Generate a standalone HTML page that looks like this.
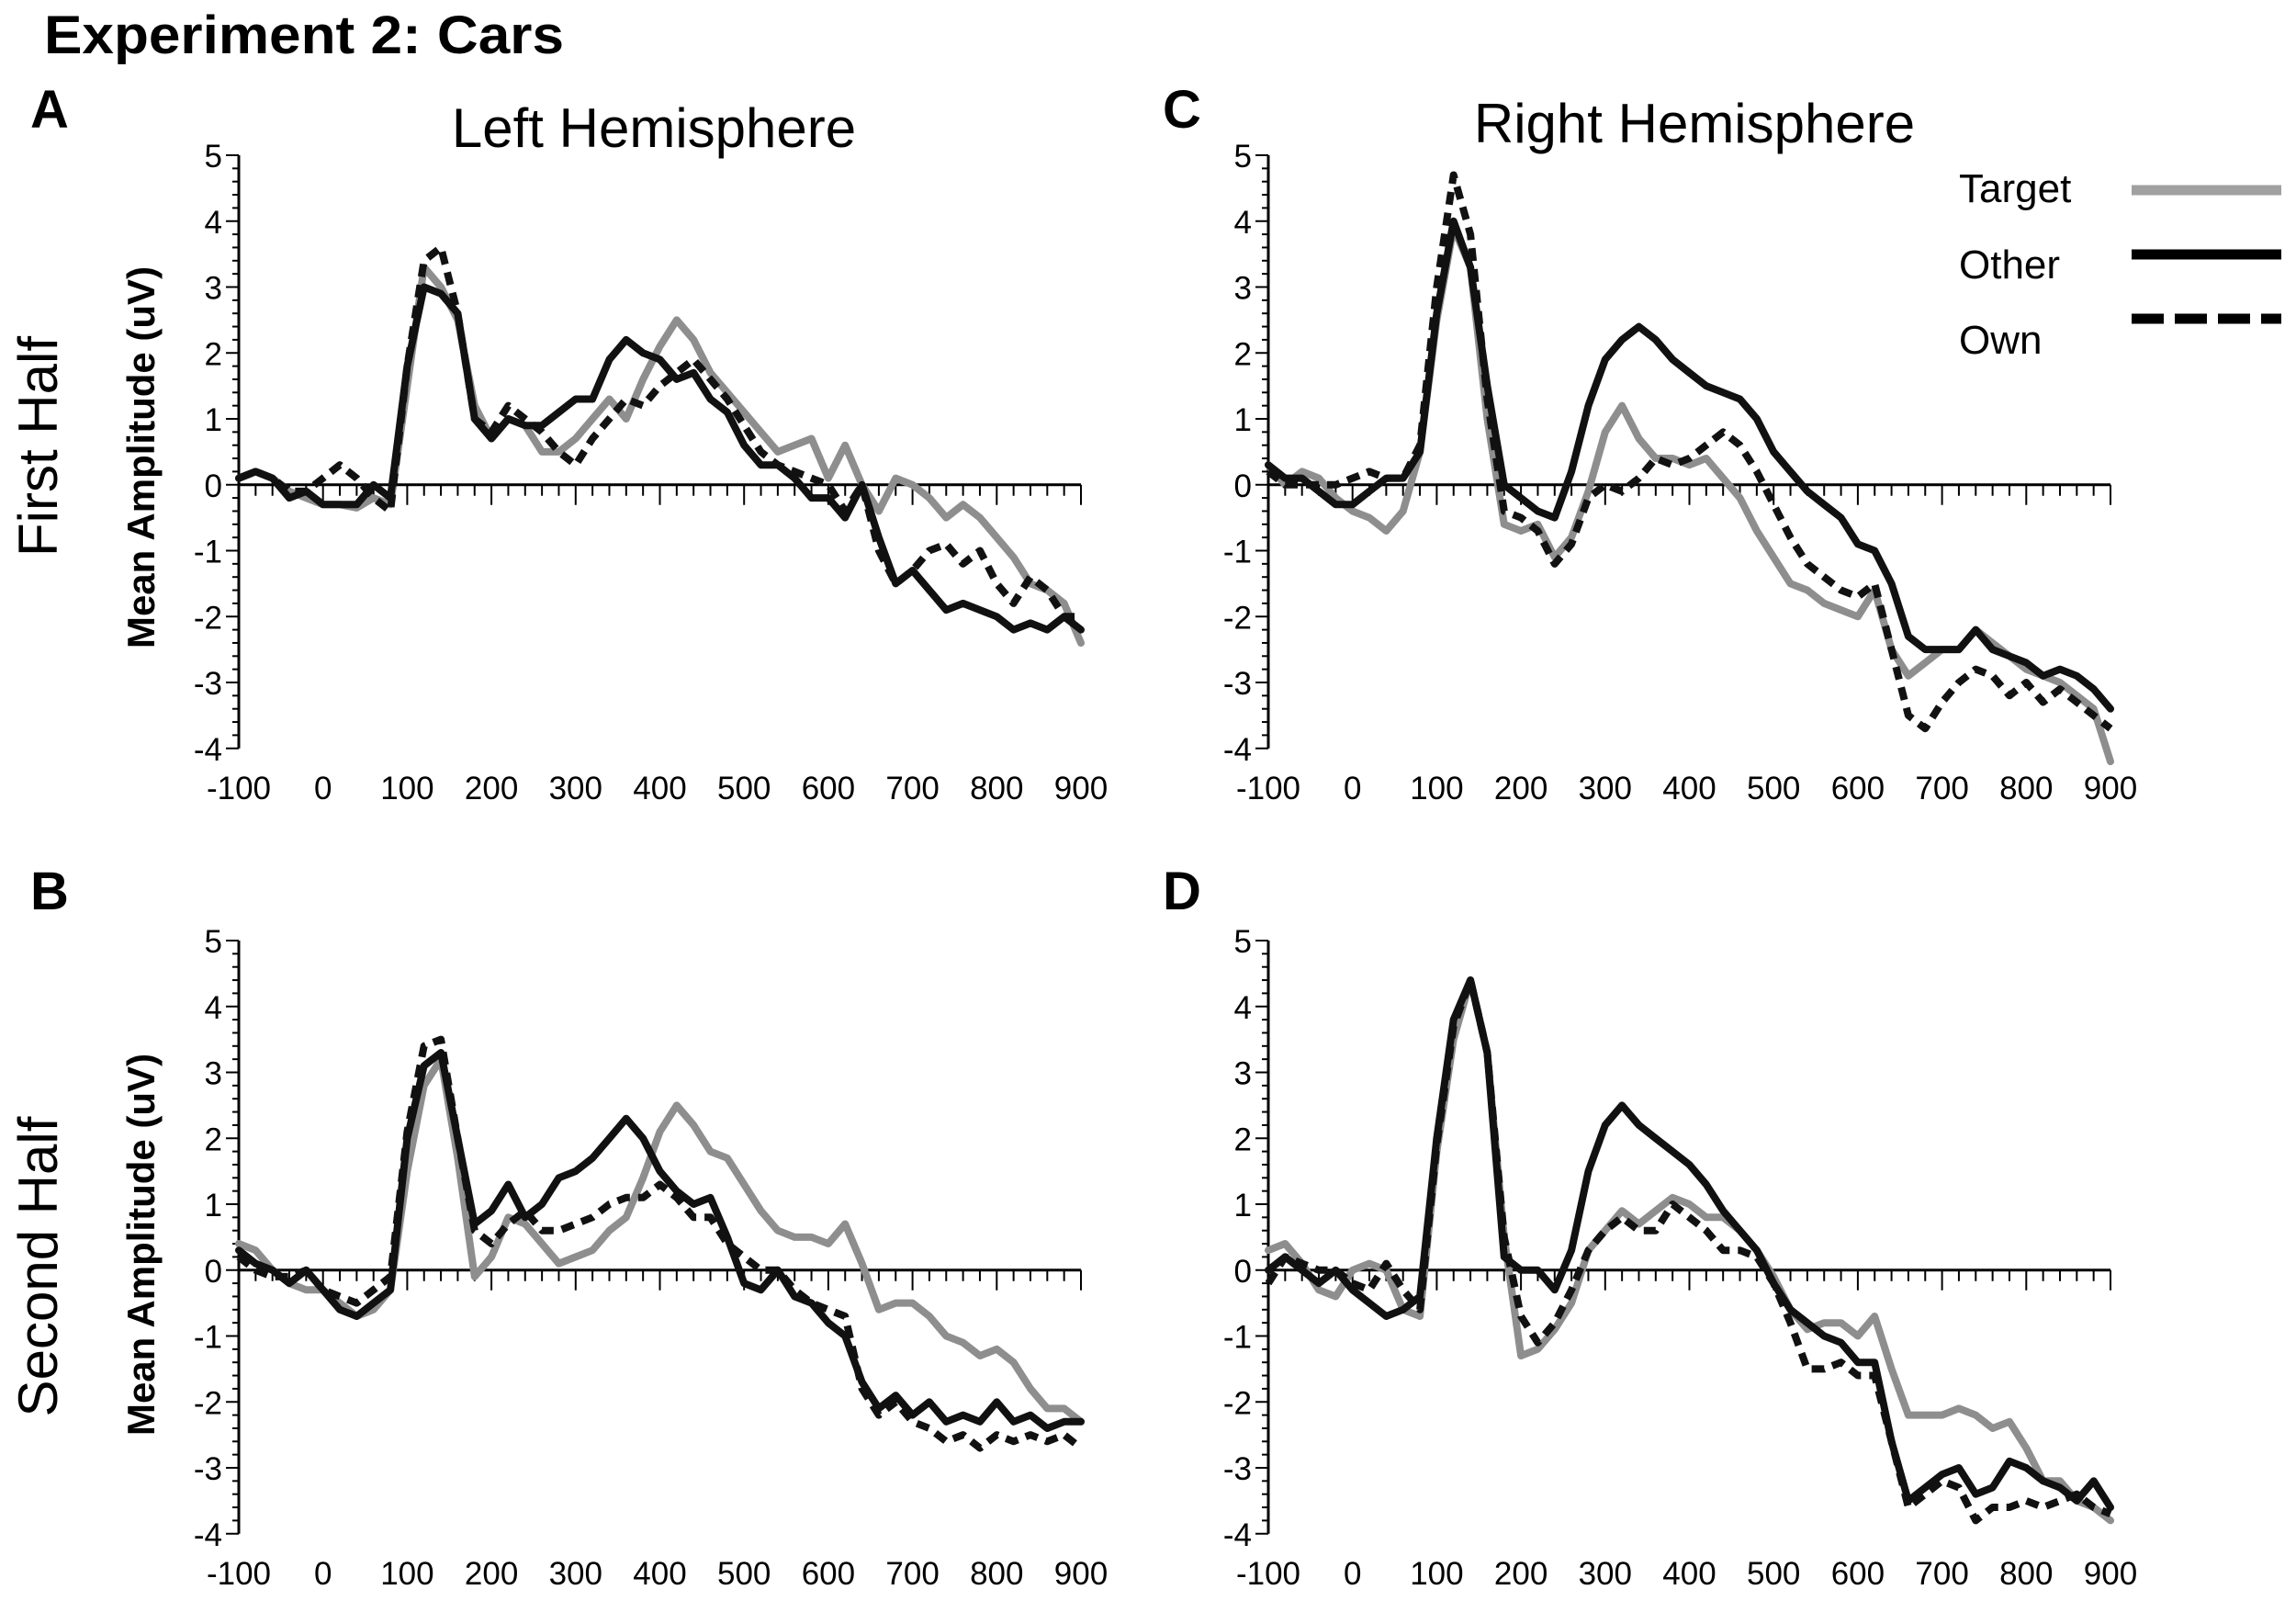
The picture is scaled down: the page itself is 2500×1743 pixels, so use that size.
<!DOCTYPE html>
<html><head><meta charset="utf-8"><style>
html,body{margin:0;padding:0;background:#fff;}
svg{display:block;font-family:"Liberation Sans",Arial,sans-serif;}
</style></head><body>
<svg id="fig" width="2500" height="1743" viewBox="0 0 2500 1743" xmlns="http://www.w3.org/2000/svg">
<text x="48" y="58" font-size="58" font-weight="bold" textLength="566" lengthAdjust="spacingAndGlyphs">Experiment 2: Cars</text>
<text x="33" y="139" font-size="58" font-weight="bold">A</text>
<text x="33" y="990" font-size="58" font-weight="bold">B</text>
<text x="1266" y="139" font-size="58" font-weight="bold">C</text>
<text x="1266" y="990" font-size="58" font-weight="bold">D</text>
<text x="712" y="160" font-size="60" text-anchor="middle">Left Hemisphere</text>
<text x="1845" y="155" font-size="60" text-anchor="middle">Right Hemisphere</text>
<text transform="translate(62,486) rotate(-90)" font-size="60" text-anchor="middle">First Half</text>
<text transform="translate(62,1379) rotate(-90)" font-size="60" text-anchor="middle">Second Half</text>
<text transform="translate(168,498) rotate(-90)" font-size="42" font-weight="bold" text-anchor="middle">Mean Amplitude (uV)</text>
<text transform="translate(168,1355) rotate(-90)" font-size="42" font-weight="bold" text-anchor="middle">Mean Amplitude (uV)</text>
<g>
<text x="2133" y="220" font-size="44">Target</text>
<line x1="2321" x2="2484" y1="207" y2="207" stroke="#a0a0a0" stroke-width="11"/>
<text x="2133" y="303" font-size="44">Other</text>
<line x1="2321" x2="2484" y1="277" y2="277" stroke="#000" stroke-width="11"/>
<text x="2133" y="385" font-size="44">Own</text>
<line x1="2321" x2="2484" y1="347" y2="347" stroke="#000" stroke-width="11" stroke-dasharray="35,12"/>
</g>
</svg>
<script>
const times = [-100,-80,-60,-40,-20,0,20,40,60,80,100,120,140,160,180,200,220,240,260,280,300,320,340,360,380,400,420,440,460,480,500,520,540,560,580,600,620,640,660,680,700,720,740,760,780,800,820,840,860,880,900];
const yTicks = [5,4,3,2,1,0,-1,-2,-3,-4];
const xTicks = [-100,0,100,200,300,400,500,600,700,800,900];

const aTarget = [0.1,0.2,0.1,-0.1,-0.2,-0.3,-0.3,-0.35,-0.2,-0.3,1.5,3.3,3.0,2.5,1.2,0.7,1.0,0.9,0.5,0.5,0.7,1.0,1.3,1.0,1.6,2.1,2.5,2.2,1.7,1.4,1.1,0.8,0.5,0.6,0.7,0.1,0.6,0.0,-0.4,0.1,0.0,-0.2,-0.5,-0.3,-0.5,-0.8,-1.1,-1.5,-1.6,-1.8,-2.4];
const aOther = [0.1,0.2,0.1,-0.2,-0.1,-0.3,-0.3,-0.3,0.0,-0.2,1.8,3.0,2.9,2.6,1.0,0.7,1.0,0.9,0.9,1.1,1.3,1.3,1.9,2.2,2.0,1.9,1.6,1.7,1.3,1.1,0.6,0.3,0.3,0.1,-0.2,-0.2,-0.5,0.0,-0.8,-1.5,-1.3,-1.6,-1.9,-1.8,-1.9,-2.0,-2.2,-2.1,-2.2,-2.0,-2.2];
const aOwn = [0.1,0.2,0.1,-0.1,-0.1,0.1,0.3,0.1,-0.2,-0.4,1.8,3.4,3.6,2.6,1.0,0.8,1.2,1.0,0.8,0.5,0.3,0.7,1.0,1.3,1.2,1.5,1.7,1.9,1.6,1.3,0.9,0.5,0.3,0.2,0.1,0.0,-0.4,0.0,-1.0,-1.5,-1.3,-1.0,-0.9,-1.2,-1.0,-1.5,-1.8,-1.4,-1.6,-2.0,-2.0];

const cTarget = [0.3,0.0,0.2,0.1,-0.2,-0.4,-0.5,-0.7,-0.4,0.5,2.5,3.9,3.3,1.0,-0.6,-0.7,-0.6,-1.1,-0.8,-0.1,0.8,1.2,0.7,0.4,0.4,0.3,0.4,0.1,-0.2,-0.7,-1.1,-1.5,-1.6,-1.8,-1.9,-2.0,-1.6,-2.5,-2.9,-2.7,-2.5,-2.5,-2.2,-2.4,-2.6,-2.8,-2.9,-3.0,-3.2,-3.4,-4.2];
const cOther = [0.3,0.1,0.1,-0.1,-0.3,-0.3,-0.1,0.1,0.1,0.5,2.6,4.0,3.3,1.5,0.0,-0.2,-0.4,-0.5,0.2,1.2,1.9,2.2,2.4,2.2,1.9,1.7,1.5,1.4,1.3,1.0,0.5,0.2,-0.1,-0.3,-0.5,-0.9,-1.0,-1.5,-2.3,-2.5,-2.5,-2.5,-2.2,-2.5,-2.6,-2.7,-2.9,-2.8,-2.9,-3.1,-3.4];
const cOwn = [0.2,0.0,0.0,0.0,0.0,0.1,0.2,0.1,0.1,0.6,3.0,4.7,3.8,1.3,-0.4,-0.5,-0.7,-1.2,-0.9,-0.2,0.0,-0.1,0.1,0.4,0.3,0.4,0.6,0.8,0.6,0.2,-0.3,-0.8,-1.2,-1.4,-1.6,-1.7,-1.5,-2.5,-3.5,-3.7,-3.3,-3.0,-2.8,-2.9,-3.2,-3.0,-3.3,-3.1,-3.3,-3.5,-3.7];

const bTarget = [0.4,0.3,0.0,-0.2,-0.3,-0.3,-0.5,-0.7,-0.6,-0.3,1.5,2.8,3.2,1.7,-0.1,0.2,0.8,0.7,0.4,0.1,0.2,0.3,0.6,0.8,1.4,2.1,2.5,2.2,1.8,1.7,1.3,0.9,0.6,0.5,0.5,0.4,0.7,0.1,-0.6,-0.5,-0.5,-0.7,-1.0,-1.1,-1.3,-1.2,-1.4,-1.8,-2.1,-2.1,-2.3];
const bOther = [0.3,0.1,0.0,-0.2,0.0,-0.3,-0.6,-0.7,-0.5,-0.3,2.0,3.1,3.3,2.0,0.7,0.9,1.3,0.8,1.0,1.4,1.5,1.7,2.0,2.3,2.0,1.5,1.2,1.0,1.1,0.5,-0.2,-0.3,0.0,-0.4,-0.5,-0.8,-1.0,-1.7,-2.1,-1.9,-2.2,-2.0,-2.3,-2.2,-2.3,-2.0,-2.3,-2.2,-2.4,-2.3,-2.3];
const bOwn = [0.2,0.0,-0.1,-0.1,0.0,-0.3,-0.4,-0.5,-0.3,-0.1,2.1,3.4,3.5,2.0,0.6,0.4,0.7,0.9,0.6,0.6,0.7,0.8,1.0,1.1,1.1,1.3,1.1,0.8,0.8,0.4,0.2,0.0,0.0,-0.3,-0.5,-0.6,-0.7,-1.8,-2.2,-2.0,-2.3,-2.4,-2.6,-2.5,-2.7,-2.5,-2.6,-2.5,-2.6,-2.5,-2.7];

const dTarget = [0.3,0.4,0.1,-0.3,-0.4,0.0,0.1,0.0,-0.6,-0.7,1.8,3.5,4.4,3.3,0.5,-1.3,-1.2,-0.9,-0.5,0.3,0.6,0.9,0.7,0.9,1.1,1.0,0.8,0.8,0.6,0.3,-0.1,-0.6,-0.9,-0.8,-0.8,-1.0,-0.7,-1.5,-2.2,-2.2,-2.2,-2.1,-2.2,-2.4,-2.3,-2.7,-3.2,-3.2,-3.5,-3.6,-3.8];
const dOther = [0.0,0.2,0.0,-0.2,0.0,-0.3,-0.5,-0.7,-0.6,-0.4,2.0,3.8,4.4,3.3,0.2,0.0,0.0,-0.3,0.3,1.5,2.2,2.5,2.2,2.0,1.8,1.6,1.3,0.9,0.6,0.3,-0.2,-0.6,-0.8,-1.0,-1.1,-1.4,-1.4,-2.6,-3.5,-3.3,-3.1,-3.0,-3.4,-3.3,-2.9,-3.0,-3.2,-3.3,-3.5,-3.2,-3.6];
const dOwn = [-0.2,0.2,0.1,0.0,0.0,-0.2,-0.3,0.1,-0.3,-0.6,1.9,3.7,4.4,3.3,0.5,-0.7,-1.1,-0.8,-0.3,0.3,0.6,0.8,0.6,0.6,1.0,0.8,0.6,0.3,0.3,0.2,-0.2,-0.8,-1.5,-1.5,-1.4,-1.6,-1.6,-2.6,-3.6,-3.4,-3.2,-3.3,-3.8,-3.6,-3.6,-3.5,-3.6,-3.5,-3.4,-3.6,-3.7];

const NS = 'http://www.w3.org/2000/svg';
const svg = document.getElementById('fig');
function mk(tag, attrs, parent){
  const e = document.createElementNS(NS, tag);
  for (const k in attrs) e.setAttribute(k, attrs[k]);
  parent.appendChild(e);
  return e;
}
const panels = [
  {id:'a', left:260, top:169, series:[aTarget,aOther,aOwn]},
  {id:'c', left:1381, top:169, series:[cTarget,cOther,cOwn]},
  {id:'b', left:260, top:1024, series:[bTarget,bOther,bOwn]},
  {id:'d', left:1381, top:1024, series:[dTarget,dOther,dOwn]}
];
const W = 917, UNIT = 71.75;
const styles = [
  {name:'target', stroke:'#8e8e8e', dash:null},
  {name:'other', stroke:'#111', dash:null},
  {name:'own', stroke:'#111', dash:'14,9'}
];
panels.forEach(p => {
  const xs = t => p.left + (t + 100) / 1000 * W;
  const ys = v => p.top + (5 - v) * UNIT;
  const g = mk('g', {}, svg);
  
  
  const ya = mk('line', {x1:p.left, x2:p.left, y1:ys(5), y2:ys(-4), stroke:'#000', 'stroke-width':3}, g);
  
  
  for (let v = -4; v <= 5.001; v += 0.2) {
    const major = Math.abs(v - Math.round(v)) < 0.01;
    const t = mk('line', {x1:p.left - (major ? 14 : 7), x2:p.left, y1:ys(v), y2:ys(v), stroke:'#000', 'stroke-width':2}, g);
    
    
  }
  yTicks.forEach(v => {
    const tx = mk('text', {x:p.left - 18, y:ys(v) + 13, 'font-size':35, 'text-anchor':'end'}, g);
    
    
    tx.textContent = v;
  });
  const xa = mk('line', {x1:p.left, x2:p.left + W, y1:ys(0), y2:ys(0), stroke:'#000', 'stroke-width':3}, g);
  
  
  for (let t = -100; t <= 900; t += 20) {
    const major = t % 100 === 0;
    const tk = mk('line', {x1:xs(t), x2:xs(t), y1:ys(0), y2:ys(0) + (major ? 22 : 12), stroke:'#000', 'stroke-width':2}, g);
    
    
  }
  xTicks.forEach(t => {
    const tx = mk('text', {x:xs(t), y:ys(-4) + 55, 'font-size':35, 'text-anchor':'middle'}, g);
    
    
    tx.textContent = t;
  });
  p.series.forEach((vals, i) => {
    const s = styles[i];
    const pts = vals.map((v, k) => xs(times[k]).toFixed(1) + ',' + ys(v).toFixed(1)).join(' ');
    const attrs = {points:pts, fill:'none', stroke:s.stroke, 'stroke-width':8, 'stroke-linejoin':'round', 'stroke-linecap':'round'};
    if (s.dash) { attrs['stroke-dasharray'] = s.dash; attrs['stroke-linecap'] = 'butt'; }
    const pl = mk('polyline', attrs, g);
    
    
  });
});
</script>
</body></html>
